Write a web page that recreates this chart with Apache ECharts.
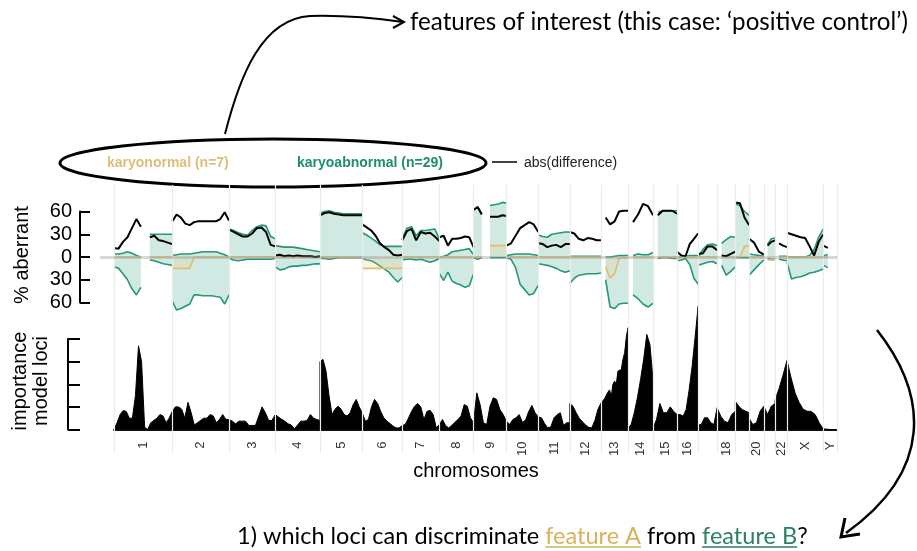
<!DOCTYPE html>
<html><head><meta charset="utf-8">
<script src="https://cdn.jsdelivr.net/npm/echarts@6/dist/echarts.min.js"></script>
<style>html,body{margin:0;padding:0;background:#fff}#c{width:917px;height:551px}</style>
</head><body><div id="c"></div>
<script>
// ---------------- DATA ----------------
const chromNames   = ['1','2','3','4','5','6','7','8','9','10','11','12','13','14','15','16','17','18','19','20','21','22','X','Y'];
const chromLengths = [249,243,198,191,181,171,159,146,141,136,135,134,115,107,103,90,81,78,59,63,48,51,155,59]; // Mb
const labelledChroms = ['1','2','3','4','5','6','7','8','9','10','11','12','13','14','15','16','18','20','22','X','Y'];

// upper panel: points per chromosome (evenly spaced over the chromosome)
const upperBins = [14,14,11,11,10,10,9,9,9,8,8,8,7,6,6,6,5,5,4,4,4,4,9,4];
// abs(difference) (black)
const diffAbs = [
  12,11,20,26,38,50,40,null,26,28,22,21,19,17,
  47,56,52,44,42,46,47,47,47,47,47,50,59,48,
  36,33,30,27,27,31,38,39,33,16,14,
  2,3,1,2,1,2,1,1,1,0,1,
  55,58,59,57,56,55,55,55,55,55,
  43,39,35,28,18,13,9,3,2,3,
  22,34,37,22,33,31,32,27,21,
  26,28,15,24,24,25,27,26,13,
  62,66,56,null,53,53,53,55,54,
  15,18,28,38,42,46,43,33,
  18,17,13,15,16,13,17,17,
  33,31,24,22,25,24,22,22,
  null,52,43,47,60,61,61,
  null,46,56,70,67,55,
  null,55,61,61,61,57,
  7,2,1,17,24,31,
  4,5,14,14,9,
  null,2,1,4,7,
  72,71,52,42,
  24,19,7,3,
  null,15,20,22,
  null,18,15,13,
  32,30,28,26,25,14,2,20,30,
  15,12,null,null
];
// karyoabnormal gains (%)
const abnGain = [
  4,4,5,7,5,2,0,null,30,30,30,30,30,30,
  2,3,4,4,4,5,6,7,7,7,7,5,3,0,
  37,35,32,30,29,35,40,42,41,27,24,
  15,14,13,13,13,12,11,10,9,8,7,
  58,60,61,59,58,57,57,57,57,57,
  32,29,25,21,16,14,14,14,14,14,
  24,38,40,28,35,35,36,37,24,
  0,1,3,7,8,9,10,11,3,
  62,66,57,null,68,69,70,72,71,
  2,3,4,4,4,4,3,2,
  29,27,26,30,31,32,33,33,
  1,1,1,1,1,1,1,1,
  null,0,0,1,2,2,2,
  null,2,4,3,3,6,
  null,59,61,61,61,61,
  0,1,1,2,2,2,
  0,10,16,17,15,
  null,18,23,27,26,
  70,68,60,55,
  4,3,2,1,
  null,17,24,25,
  null,1,1,1,
  0,0,0,0,0,2,10,26,37,
  2,3,null,null
];
// karyoabnormal losses (%, drawn downward)
const abnLoss = [
  -13,-15,-22,-30,-42,-50,-40,null,-4,-5,-7,-9,-10,-11,
  -58,-70,-68,-65,-62,-50,-50,-51,-51,-51,-52,-53,-62,-50,
  -2,-4,-5,-4,-3,-3,-3,-3,-3,-3,-2,
  -13,-17,-16,-13,-12,-12,-11,-11,-10,-9,-9,
  -2,-2,-3,-2,-1,-1,-1,-1,-1,-1,
  -2,-4,-5,-8,-12,-16,-20,-27,-33,-27,
  -4,-3,-3,-4,-3,-5,-7,-5,-2,
  -22,-31,-20,-32,-35,-37,-40,-38,-22,
  -1,-3,-1,null,-1,-1,-1,-1,-1,
  -1,-3,-14,-36,-43,-50,-48,-37,
  -9,-10,-11,-13,-15,-18,-20,-18,
  -35,-28,-24,-23,-22,-22,-22,-21,
  null,-30,-66,-68,-62,-61,-61,
  null,-50,-55,-62,-66,-61,
  null,-2,-1,-1,-2,-2,
  -5,-4,-2,-10,-28,-36,
  -11,-9,-7,-6,-9,
  null,-11,-24,-19,-13,
  -1,-1,-1,-1,
  -24,-17,-10,-4,
  null,-2,-3,-3,
  null,-3,-4,-5,
  -7,-29,-27,-26,-24,-21,-20,-18,-16,
  -11,-14,null,null
];
// karyonormal aberration (%, gains up / losses down)
const normChange = [
  0,0,0,0,0,0,0,null,0,0,0,0,0,0,
  -15,-15,-15,-15,-15,0,0,0,0,0,0,0,0,0,
  0,0,0,0,0,0,0,0,0,0,0,
  0,0,0,0,0,0,0,0,0,0,0,
  0,0,0,0,0,0,0,0,0,0,
  -15,-15,-15,-15,-15,-15,-15,-15,-15,-15,
  0,0,0,0,0,0,0,0,0,
  0,0,0,0,0,0,0,0,0,
  0,0,0,null,15,15,15,15,15,
  0,0,0,0,0,0,0,0,
  0,0,0,0,0,0,0,0,
  0,0,0,0,0,0,0,0,
  null,-13,-28,-22,-2,-1,-1,
  null,0,0,0,0,0,
  null,0,0,0,0,0,
  0,0,0,0,0,0,
  0,0,0,0,0,
  null,0,0,0,0,
  0,0,14,15,
  0,0,0,0,
  null,-4,-4,-4,
  null,0,0,0,
  0,0,0,0,0,0,0,0,0,
  0,0,null,null
];

// lower panel: importance of model loci
const impBins = [20,19,15,15,15,14,13,12,11,11,11,11,17,9,8,8,7,6,5,5,4,4,10,3];
const importance = [
  0,0.3,0.66,0.84,0.8,0.5,0.5,1.5,3.7,3.0,0.1,0,0.3,0.4,0.5,0.66,0.6,0.3,0.5,0.8,
  0.8,1.0,1.0,0.9,0.5,1.2,0.75,0.2,0.3,0.4,0.5,0.5,0.66,0.6,0.3,0.45,0.66,0.45,0.44,
  0.44,0.37,0.25,0.37,0.37,0.37,0.18,0.18,0.18,0.59,1.0,0.74,0.4,0.4,0.66,
  0.66,0.55,0.45,0.37,0.25,0.2,0.03,0.2,0.37,0.37,0.4,0.66,0.5,0.44,0.4,
  3.0,3.1,2.6,1.5,0.66,0.9,1.03,0.9,0.66,0.6,0.74,1.1,1.33,1.0,0.74,
  0.74,0.37,0.44,1.0,1.33,1.15,0.8,0.52,0.37,0.27,0.15,0.07,0.07,0.18,
  0.18,0.22,0.5,0.8,1.03,1.15,1.0,0.44,0.8,0.85,0.66,0.07,0.22,
  0.22,0.44,0.18,0.07,0.18,0.32,0.44,0.6,1.1,1.03,0.52,0.3,
  0.3,1.62,1.1,0.3,0.22,1.03,1.4,1.33,0.88,0.66,0.37,
  0.37,0.22,0.44,0.52,0.66,0.32,0.41,0.8,1.06,0.74,0.56,
  0.56,0.52,0.27,0.07,0.12,0.52,0.66,0.74,0.18,0.3,0.3,
  1.15,1.03,0.75,0.5,0.35,0.2,0.1,0.07,0.4,0.9,1.18,
  1.18,1.25,1.36,1.4,1.65,1.75,1.45,2.0,2.14,2.0,2.58,2.5,2.65,3.1,3.4,4.1,4.5,
  0.05,0.22,0.74,1.4,2.2,3.1,4.2,3.76,2.2,
  0.07,0.44,1.15,0.74,0.74,1.0,0.8,0.66,
  0.66,0.66,0.59,0.88,1.75,2.8,4.1,5.45,
  0.2,0.22,0.52,0.52,0.3,0.22,0.96,
  0.96,0.59,0.37,0.3,0.66,0.81,
  1.25,1.03,0.88,0.81,0.74,
  0.5,0.22,0.3,0.81,1.03,
  1.03,0.66,1.03,1.15,
  1.3,1.8,2.4,3.05,
  3.05,2.3,1.62,1.2,0.9,0.81,0.8,0.66,0.3,0.03,
  0,0,0
];

// ---------------- BUILD ----------------
const starts = []; let acc = 0;
chromLengths.forEach(l => { starts.push(acc); acc += l; });
const genomeLength = acc;
const mids = chromLengths.map((l, i) => starts[i] + l / 2);
const labelMids = labelledChroms.map(n => mids[chromNames.indexOf(n)]);
const boundaries = starts.concat([genomeLength]);

function buildSeries(values, bins, breakBetween) {
  const out = []; let k = 0;
  bins.forEach((n, c) => {
    for (let i = 0; i < n; i++) {
      const v = values[k++];
      out.push([starts[c] + chromLengths[c] * i / (n - 1), v === null ? '-' : v]);
    }
    if (breakBetween) out.push([starts[c] + chromLengths[c], '-']);
  });
  return out;
}

const TEAL = '#22977a', TEAL_FILL = 'rgba(34,151,122,0.30)';
const TAN = '#e0bd72', TAN_FILL = 'rgba(240,200,110,0.30)';
const FONT = 'Liberation Sans';

const ctx = document.createElement('canvas').getContext('2d');
function textW(str, font) { ctx.font = font; return ctx.measureText(str).width; }

const annFamily = 'Lato';
const topText = 'features of interest (this case: \u2018positive control\u2019)';
const topSize = 19 * 498 / textW(topText, `19px ${annFamily}`);

const bottomParts = [
  ['1) which loci can discriminate ', '#000', false],
  ['feature A', '#d8b25c', true],
  [' from ', '#000', false],
  ['feature B', '#2a7f66', true],
  ['?', '#000', false]
];
const bottomFull = bottomParts.map(p => p[0]).join('');
const botSize = 19 * 571 / textW(bottomFull, `19px ${annFamily}`);

const graphics = [];
// top annotation
graphics.push({type:'text', x:410, y:22, style:{text:topText, fontFamily:annFamily, fontSize:topSize, fill:'#000', align:'left', verticalAlign:'middle'}});
graphics.push({type:'bezierCurve', shape:{x1:225,y1:134,cpx1:240,cpy1:75,cpx2:262,cpy2:19,x2:310,y2:16}, style:{stroke:'#000', lineWidth:2, fill:'none'}});
graphics.push({type:'bezierCurve', shape:{x1:310,y1:16,cpx1:345,cpy1:15,cpx2:375,cpy2:18,x2:403,y2:22}, style:{stroke:'#000', lineWidth:2, fill:'none'}});
graphics.push({type:'polyline', shape:{points:[[393,16],[404,22],[393,28]]}, style:{stroke:'#000', lineWidth:2, fill:'none'}});
// ellipse legend
graphics.push({type:'ellipse', shape:{cx:273, cy:163, rx:213, ry:24}, style:{fill:'none', stroke:'#000', lineWidth:3}});
graphics.push({type:'text', x:107, y:163, style:{text:'karyonormal (n=7)', fontFamily:FONT, fontWeight:'bold', fontSize:14, fill:'#dfbd78', verticalAlign:'middle'}});
graphics.push({type:'text', x:297, y:163, style:{text:'karyoabnormal (n=29)', fontFamily:FONT, fontWeight:'bold', fontSize:14, fill:'#1d8e70', verticalAlign:'middle'}});
graphics.push({type:'line', shape:{x1:492,y1:162,x2:517,y2:162}, style:{stroke:'#000', lineWidth:1.5}});
graphics.push({type:'text', x:524, y:163, style:{text:'abs(difference)', fontFamily:FONT, fontSize:14, fill:'#222', verticalAlign:'middle'}});
// axis titles
graphics.push({type:'text', x:22, y:255, rotation:Math.PI/2, style:{text:'% aberrant', fontFamily:FONT, fontSize:20, fill:'#000', align:'center', verticalAlign:'middle'}});
graphics.push({type:'text', x:20, y:381, rotation:Math.PI/2, style:{text:'importance', fontFamily:FONT, fontSize:20, fill:'#000', align:'center', verticalAlign:'middle'}});
graphics.push({type:'text', x:41, y:381, rotation:Math.PI/2, style:{text:'model loci', fontFamily:FONT, fontSize:20, fill:'#000', align:'center', verticalAlign:'middle'}});
graphics.push({type:'text', x:476, y:471, style:{text:'chromosomes', fontFamily:FONT, fontSize:20, fill:'#000', align:'center', verticalAlign:'middle'}});
// right curved arrow
graphics.push({type:'bezierCurve', shape:{x1:877,y1:330,cpx1:928,cpy1:395,cpx2:934,cpy2:470,x2:846,y2:533}, style:{stroke:'#000', lineWidth:2.5, fill:'none'}});
graphics.push({type:'polyline', shape:{points:[[845,518],[841,537],[860,534]]}, style:{stroke:'#000', lineWidth:3, fill:'none'}});
// bottom question with coloured, underlined parts
let bx = 237;
bottomParts.forEach(([t, col, ul]) => {
  const w = textW(t, `${botSize}px ${annFamily}`);
  graphics.push({type:'text', x:bx, y:536, style:{text:t, fontFamily:annFamily, fontSize:botSize, fill:col, verticalAlign:'middle'}});
  if (ul) graphics.push({type:'line', shape:{x1:bx, y1:547, x2:bx + w, y2:547}, style:{stroke:col, lineWidth:1.5}});
  bx += w;
});

const chart = echarts.init(document.getElementById('c'), null, {renderer:'canvas'});
chart.setOption({
  animation: false,
  textStyle: {fontFamily: FONT},
  grid: [
    {left:100, right:80, top:211.5, height:91},
    {left:114, right:80, top:339, height:90.5},
    {left:114, right:80, top:185, height:268}
  ],
  xAxis: [
    {gridIndex:0, type:'value', min:-60, max:genomeLength, show:false},
    {gridIndex:1, type:'value', min:0, max:genomeLength,
      axisLine:{show:true, onZero:false, lineStyle:{color:'#111', width:2}},
      axisTick:{show:false}, splitLine:{show:false},
      axisLabel:{customValues:labelMids, rotate:90, margin:12, fontSize:13, color:'#333',
        formatter: v => { let best = 0; labelMids.forEach((m,i)=>{ if (Math.abs(m-v) < Math.abs(labelMids[best]-v)) best = i; }); return labelledChroms[best]; }}},
    {gridIndex:2, type:'value', min:0, max:genomeLength, show:false}
  ],
  yAxis: [
    {gridIndex:0, type:'value', min:-60, max:60, interval:30, offset:20,
      axisLine:{show:true, onZero:false, lineStyle:{color:'#000', width:2}},
      axisTick:{show:true, inside:true, length:10, lineStyle:{color:'#000', width:2}},
      axisLabel:{fontSize:20, color:'#000', margin:8, formatter: v => String(Math.abs(v))},
      splitLine:{show:false}},
    {gridIndex:1, type:'value', min:0, max:4, interval:1, offset:46,
      axisLine:{show:true, onZero:false, lineStyle:{color:'#000', width:2}},
      axisTick:{show:true, inside:true, length:12, lineStyle:{color:'#000', width:2}},
      axisLabel:{show:false}, splitLine:{show:false}},
    {gridIndex:2, type:'value', min:0, max:1, show:false}
  ],
  series: [
    {type:'line', xAxisIndex:2, yAxisIndex:2, data:[], z:0, silent:true,
      markLine:{silent:true, symbol:['none','none'], label:{show:false},
        lineStyle:{color:'#ebebeb', width:1.2, type:'solid'},
        data: boundaries.map(b => ({xAxis:b}))}},
    {type:'line', xAxisIndex:0, yAxisIndex:0, data:[], z:1, silent:true,
      markLine:{silent:true, symbol:['none','none'], label:{show:false},
        lineStyle:{color:'rgba(150,150,150,0.38)', width:3, type:'solid'},
        data:[{yAxis:0}]}},
    {name:'abnGain', type:'line', xAxisIndex:0, yAxisIndex:0, data:buildSeries(abnGain, upperBins, true),
      showSymbol:false, clip:false, lineStyle:{color:TEAL, width:1.6}, areaStyle:{color:TEAL_FILL}, z:2},
    {name:'abnLoss', type:'line', xAxisIndex:0, yAxisIndex:0, data:buildSeries(abnLoss, upperBins, true),
      showSymbol:false, clip:false, lineStyle:{color:TEAL, width:1.6}, areaStyle:{color:TEAL_FILL}, z:2},
    {name:'normChange', type:'line', xAxisIndex:0, yAxisIndex:0, data:buildSeries(normChange, upperBins, true),
      showSymbol:false, clip:false, lineStyle:{color:TAN, width:1.6}, areaStyle:{color:TAN_FILL}, z:3},
    {name:'diffAbs', type:'line', xAxisIndex:0, yAxisIndex:0, data:buildSeries(diffAbs, upperBins, true),
      showSymbol:false, clip:false, lineStyle:{color:'#000', width:2}, z:4},
    {name:'importance', type:'line', xAxisIndex:1, yAxisIndex:1, data:buildSeries(importance, impBins, false),
      showSymbol:false, clip:false, lineStyle:{color:'#000', width:1}, areaStyle:{color:'#000', opacity:1}, z:2}
  ],
  graphic: {elements: graphics}
});
</script></body></html>
